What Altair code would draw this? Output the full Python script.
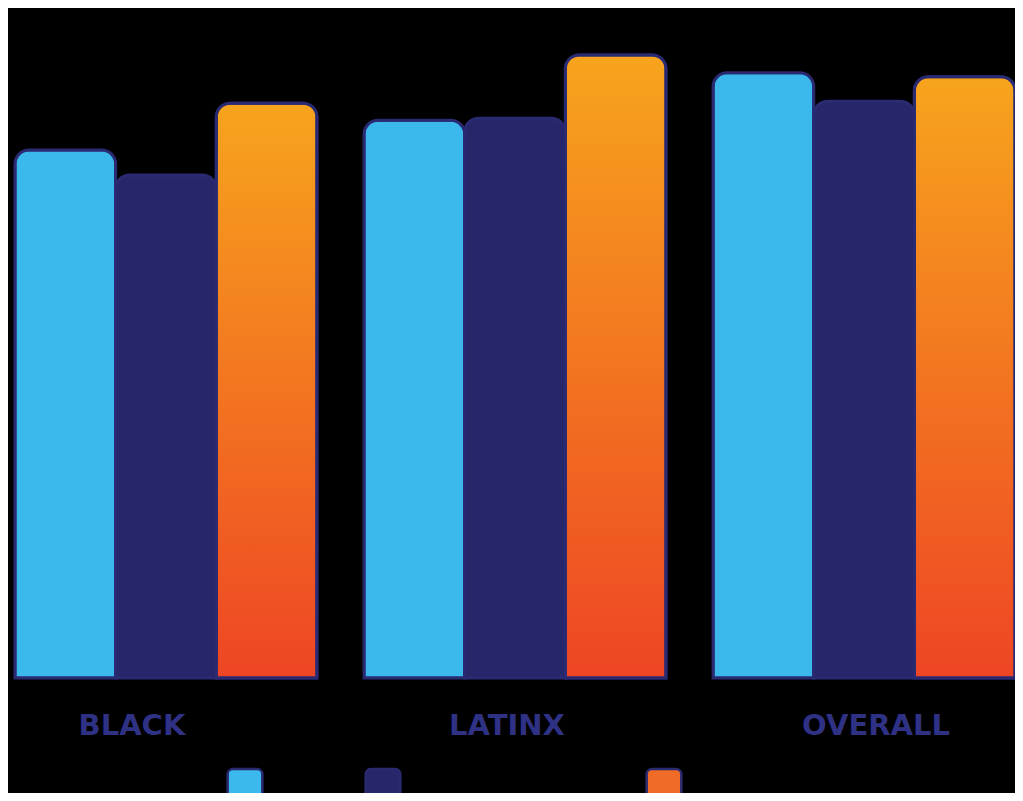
import altair as alt
import pandas as pd

groups = ["BLACK", "LATINX", "OVERALL"]
group_label_shift = {"BLACK": -34, "LATINX": -8, "OVERALL": 12}
series = ["Series one", "Series two, the longest label", "Series three"]
series_colors = ["#3BB9EC", "#26266B", "#F06A28"]
values_s1 = [80.0, 84.5, 91.7]
values_s2 = [76.2, 84.8, 87.4]
values_s3 = [87.1, 94.4, 91.1]

rows = []
for s, vals in zip(series, [values_s1, values_s2, values_s3]):
    for g, v in zip(groups, vals):
        rows.append({"group": g, "series": s, "value": v})
df = pd.DataFrame(rows)

stroke_col = "#2A2A72"
gradient = alt.LinearGradient(
    gradient="linear",
    stops=[alt.GradientStop(offset=0, color="#F7A41D"),
           alt.GradientStop(offset=1, color="#EE4524")],
    x1=0, x2=0, y1=0, y2=1,
)

rounded_square = ("M-0.7,-1 L0.7,-1 A0.3,0.3 0 0 1 1,-0.7 L1,0.7 A0.3,0.3 0 0 1 0.7,1 "
                  "L-0.7,1 A0.3,0.3 0 0 1 -1,0.7 L-1,-0.7 A0.3,0.3 0 0 1 -0.7,-1 Z")

shift_expr = " : ".join(
    f"datum.value == '{g}' ? {d}" for g, d in group_label_shift.items()
) + " : 0"

x_enc = alt.X("group:N", sort=groups,
              scale=alt.Scale(paddingInner=0.135, paddingOuter=0),
              axis=alt.Axis(title=None, domain=False, ticks=False, labelAngle=0,
                            labelFont="DejaVu Sans", labelFontSize=29, labelFontWeight="bold",
                            labelColor="#2E3184", labelPadding=33,
                            labelOffset=alt.ExprRef(shift_expr)))
xo_enc = alt.XOffset("series:N", sort=series, scale=alt.Scale(paddingInner=0, paddingOuter=0))
y_enc = alt.Y("value:Q", scale=alt.Scale(domain=[0, 100]), axis=None)

bar_kw = dict(stroke=stroke_col, strokeWidth=3, cornerRadiusTopLeft=14, cornerRadiusTopRight=14)

bars = alt.Chart(df).mark_bar(**bar_kw).encode(
    x=x_enc, xOffset=xo_enc, y=y_enc,
    color=alt.Color("series:N", sort=series,
                    scale=alt.Scale(domain=series, range=series_colors),
                    legend=alt.Legend(title=None, orient="none", direction="horizontal",
                                      legendX=211, legendY=749,
                                      symbolType=rounded_square, symbolSize=1200,
                                      symbolStrokeColor=stroke_col, symbolStrokeWidth=2.5,
                                      symbolOpacity=1,
                                      labelColor="#000000", labelFontSize=16,
                                      labelFont="DejaVu Sans", labelOffset=8,
                                      labelBaseline="bottom", labelLimit=500,
                                      columnPadding=3)),
)

grad_bars = alt.Chart(df).transform_filter(
    alt.datum.series == series[2]
).mark_bar(fill=gradient, **bar_kw).encode(
    x=x_enc, xOffset=xo_enc, y=y_enc,
)

chart = alt.layer(bars, grad_bars).properties(
    width=1000, height=660,
    padding={"left": 7, "top": 10, "right": 0, "bottom": 115},
    autosize=alt.AutoSizeParams(type="none"),
    background="#000000",
).configure_view(stroke=None)

chart.save("out.html", embed_options={"renderer": "svg", "actions": False})
